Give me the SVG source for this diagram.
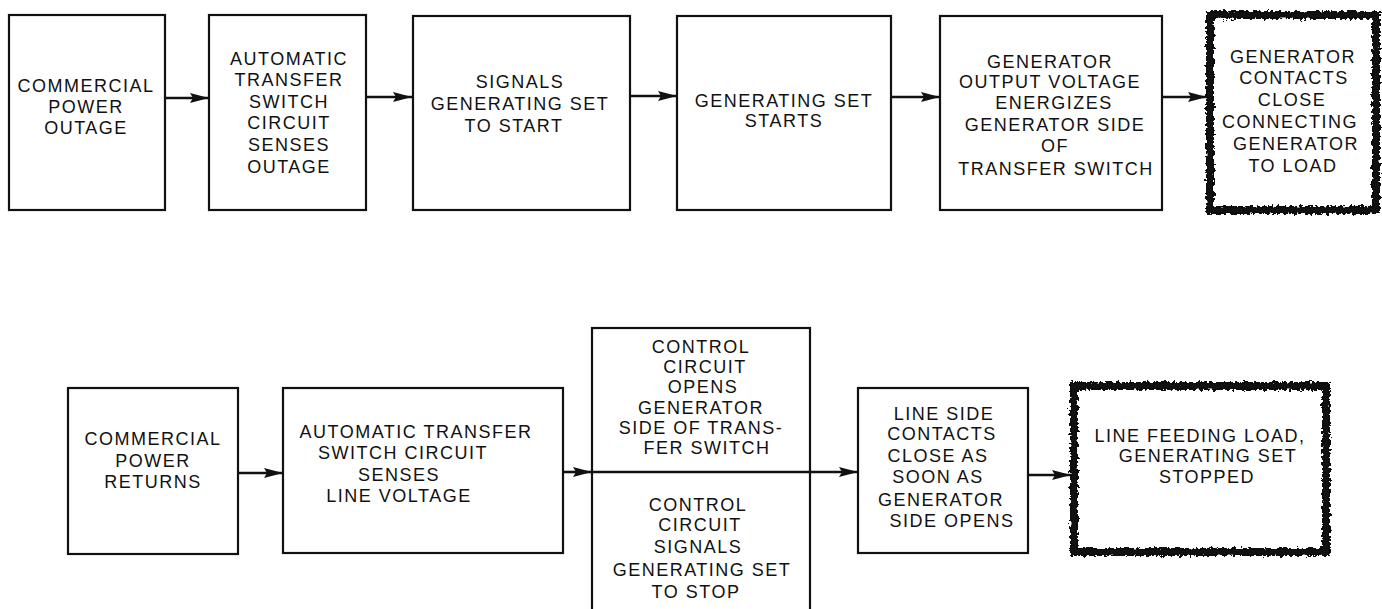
<svg xmlns="http://www.w3.org/2000/svg" width="1382" height="609" viewBox="0 0 1382 609">
<style>
.box{fill:#fff;stroke:#111;stroke-width:2.2}
.thick{fill:none;stroke:#111;stroke-width:5}
.rough{fill:none;stroke:#111;stroke-width:8;filter:url(#rough)}
.t{font-family:"Liberation Sans",Arial,sans-serif;font-size:18px;letter-spacing:1.5px;fill:#111;text-anchor:middle}
.c{stroke:#111;stroke-width:2.6;fill:none;marker-end:url(#ah)}
</style>
<defs>
<marker id="ah" markerUnits="userSpaceOnUse" markerWidth="19" markerHeight="11" viewBox="0 0 19 11" refX="19" refY="5.5" orient="auto">
<path d="M0,0.5 L19,5.5 L0,10.5 L3,5.5 z" fill="#111"/>
</marker>
<filter id="rough" x="-5%" y="-5%" width="110%" height="110%">
<feTurbulence type="fractalNoise" baseFrequency="0.3" numOctaves="3" seed="7" result="n"/>
<feDisplacementMap in="SourceGraphic" in2="n" scale="7" xChannelSelector="R" yChannelSelector="G"/>
</filter>
</defs>
<rect width="1382" height="609" fill="#fff"/>

<g id="connectors">
<line class="c" x1="165" y1="98" x2="209" y2="98"/>
<line class="c" x1="366" y1="97" x2="412" y2="97"/>
<line class="c" x1="630" y1="96" x2="677" y2="96"/>
<line class="c" x1="891" y1="97" x2="940" y2="97"/>
<line class="c" x1="1162" y1="97" x2="1207" y2="97"/>
<line class="c" x1="238" y1="473" x2="283" y2="473"/>
<line class="c" x1="563" y1="472" x2="592" y2="472"/>
<line class="c" x1="810" y1="472" x2="858" y2="472"/>
<line class="c" x1="1028" y1="475" x2="1071" y2="475"/>
</g>

<g id="n1">
<rect class="box" x="9" y="15" width="156" height="195"/>
<text class="t"><tspan x="86" y="92">COMMERCIAL</tspan><tspan x="86" y="113">POWER</tspan><tspan x="86" y="134">OUTAGE</tspan></text>
</g>
<g id="n2">
<rect class="box" x="209" y="15" width="157" height="195"/>
<text class="t"><tspan x="289" y="65">AUTOMATIC</tspan><tspan x="289" y="86">TRANSFER</tspan><tspan x="289" y="108">SWITCH</tspan><tspan x="289" y="129">CIRCUIT</tspan><tspan x="289" y="151">SENSES</tspan><tspan x="289" y="173">OUTAGE</tspan></text>
</g>
<g id="n3">
<rect class="box" x="413" y="16" width="217" height="194"/>
<text class="t"><tspan x="520" y="88">SIGNALS</tspan><tspan x="520" y="110">GENERATING SET</tspan><tspan x="514" y="132">TO START</tspan></text>
</g>
<g id="n4">
<rect class="box" x="677" y="16" width="214" height="194"/>
<text class="t"><tspan x="784" y="107">GENERATING SET</tspan><tspan x="784" y="127">STARTS</tspan></text>
</g>
<g id="n5">
<rect class="box" x="940" y="16" width="222" height="194"/>
<text class="t"><tspan x="1050" y="68">GENERATOR</tspan><tspan x="1050" y="88">OUTPUT VOLTAGE</tspan><tspan x="1054" y="109">ENERGIZES</tspan><tspan x="1055" y="131">GENERATOR SIDE</tspan><tspan x="1055" y="152">OF</tspan><tspan x="1056" y="175">TRANSFER SWITCH</tspan></text>
</g>
<g id="n6">
<rect x="1210" y="15" width="166" height="195" fill="#fff"/>
<rect class="rough" x="1210" y="15" width="166" height="195"/>
<rect class="thick" x="1210" y="15" width="166" height="195"/>
<text class="t"><tspan x="1293" y="63">GENERATOR</tspan><tspan x="1294" y="84">CONTACTS</tspan><tspan x="1292" y="106">CLOSE</tspan><tspan x="1290" y="128">CONNECTING</tspan><tspan x="1296" y="150">GENERATOR</tspan><tspan x="1293" y="172">TO LOAD</tspan></text>
</g>

<g id="n7">
<rect class="box" x="68" y="388" width="170" height="166"/>
<text class="t"><tspan x="153" y="445">COMMERCIAL</tspan><tspan x="153" y="467">POWER</tspan><tspan x="153" y="488">RETURNS</tspan></text>
</g>
<g id="n8">
<rect class="box" x="283" y="388" width="280" height="165"/>
<text class="t"><tspan x="416" y="438">AUTOMATIC TRANSFER</tspan><tspan x="403" y="459">SWITCH CIRCUIT</tspan><tspan x="399" y="481">SENSES</tspan><tspan x="399" y="502">LINE VOLTAGE</tspan></text>
</g>
<g id="n9">
<rect class="box" x="592" y="328" width="218" height="290"/>
<line x1="592" y1="472" x2="810" y2="472" stroke="#111" stroke-width="2.6"/>
<text class="t"><tspan x="701" y="353">CONTROL</tspan><tspan x="705" y="373">CIRCUIT</tspan><tspan x="703" y="393">OPENS</tspan><tspan x="701" y="414">GENERATOR</tspan><tspan x="701" y="434">SIDE OF TRANS-</tspan><tspan x="707" y="454">FER SWITCH</tspan></text>
<text class="t"><tspan x="698" y="511">CONTROL</tspan><tspan x="700" y="531">CIRCUIT</tspan><tspan x="698" y="553">SIGNALS</tspan><tspan x="702" y="576">GENERATING SET</tspan><tspan x="696" y="598">TO STOP</tspan></text>
</g>
<g id="n10">
<rect class="box" x="858" y="388" width="170" height="165"/>
<text class="t"><tspan x="944" y="420">LINE SIDE</tspan><tspan x="942" y="440">CONTACTS</tspan><tspan x="938" y="462">CLOSE AS</tspan><tspan x="938" y="483">SOON AS</tspan><tspan x="941" y="506">GENERATOR</tspan><tspan x="952" y="527">SIDE OPENS</tspan></text>
</g>
<g id="n11">
<rect x="1074" y="386" width="252" height="166" fill="#fff"/>
<rect class="rough" x="1074" y="386" width="252" height="166"/>
<rect class="thick" x="1074" y="386" width="252" height="166"/>
<text class="t"><tspan x="1200" y="442">LINE FEEDING LOAD,</tspan><tspan x="1208" y="462">GENERATING SET</tspan><tspan x="1207" y="483">STOPPED</tspan></text>
</g>
</svg>
